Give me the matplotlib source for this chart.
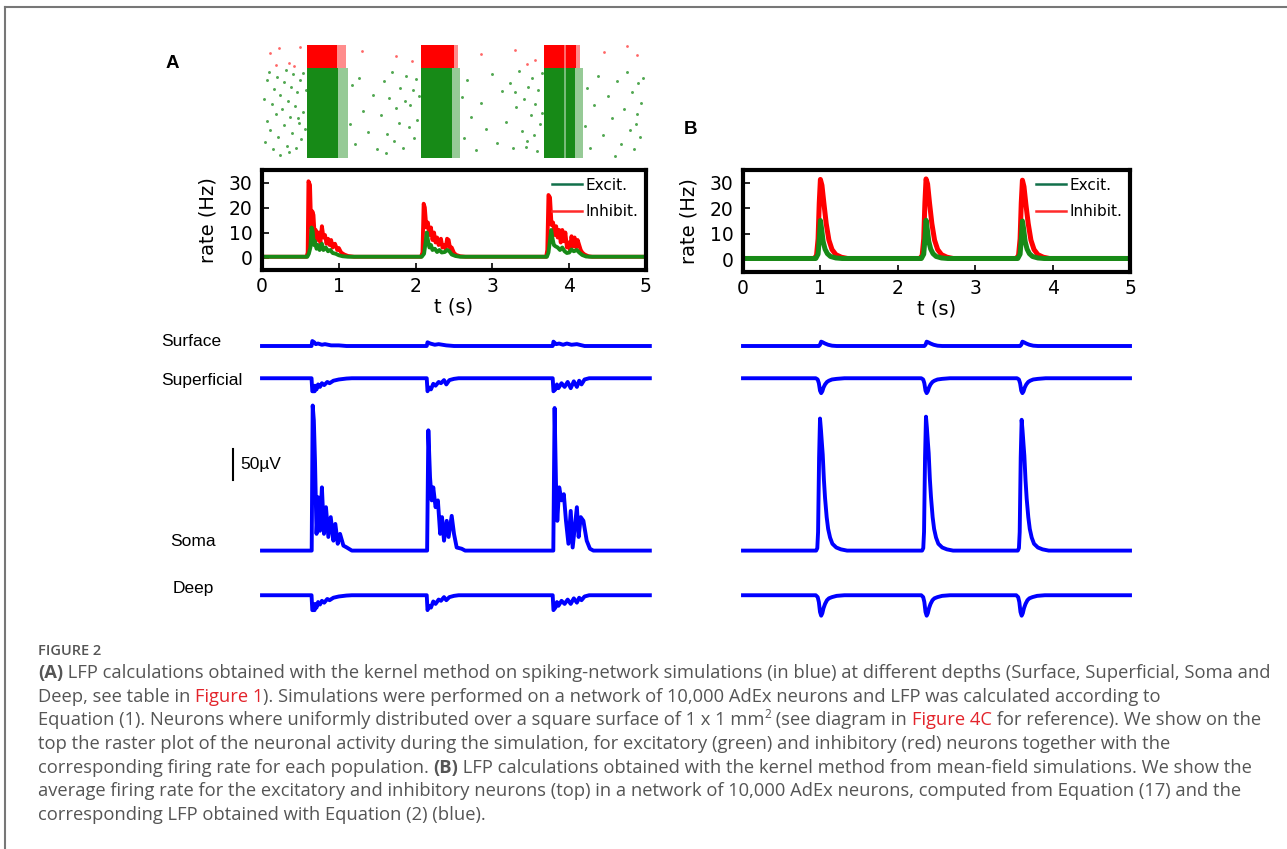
import matplotlib
matplotlib.use("Agg")
import matplotlib.pyplot as plt
from matplotlib.lines import Line2D

# ---- raster (panel A), times in s, neuron index 0-10000 (inhibitory above 8000)
burst_start = [0.59, 2.07, 3.67]
burst_dense_end = [0.99, 2.47, 4.08]
burst_end = [1.12, 2.58, 4.18]
inh_dense_end = [0.98, 2.50, 4.09]
inh_end = [1.10, 2.55, 4.14]
burst_gap = [3.95]

green_t = [0.02, 0.04, 0.06, 0.07, 0.09, 0.11, 0.13, 0.14, 0.16, 0.18, 0.19, 0.21, 0.23, 0.24, 0.26, 0.28,
           0.29, 0.31, 0.33, 0.34, 0.36, 0.38, 0.39, 0.41, 0.43, 0.44, 0.46, 0.48, 0.49, 0.51, 0.53, 0.54,
           0.56, 0.57, 0.35, 0.47,
           1.14, 1.17, 1.21, 1.26, 1.31, 1.38, 1.44, 1.50, 1.55, 1.59, 1.63, 1.66, 1.69, 1.72, 1.75, 1.78,
           1.80, 1.83, 1.86, 1.88, 1.91, 1.93, 1.96, 1.98, 2.00, 2.02, 2.04, 1.61,
           2.60, 2.63, 2.67, 2.72, 2.78, 2.85, 2.92, 2.99, 3.06, 3.12, 3.18, 3.23, 3.27, 3.31, 3.35, 3.38,
           3.41, 3.44, 3.47, 3.50, 3.52, 3.54, 3.56, 3.58, 3.60, 3.62, 3.64, 3.65, 3.45, 3.30,
           4.20, 4.23, 4.27, 4.32, 4.38, 4.44, 4.50, 4.56, 4.62, 4.67, 4.71, 4.75, 4.79, 4.82, 4.85, 4.88,
           4.90, 4.92, 4.94, 4.96, 4.60, 4.87]
green_n = [5200, 1400, 6900, 3300, 7600, 2500, 4800, 800, 6100, 3900, 7200, 1900, 5600, 300, 4300, 6700,
           2900, 7800, 1100, 5000, 3600, 6300, 2200, 7400, 4600, 900, 5800, 3100, 6900, 1700, 7500, 4100,
           2600, 6000, 500, 3500,
           3000, 6500, 1200, 7100, 4200, 2300, 5600, 800, 3800, 6800, 2100, 5300, 7600, 1500, 4400, 3100,
           6200, 900, 5000, 7300, 2700, 4700, 6000, 1800, 7000, 3400, 5500, 400,
           5400, 1800, 6900, 3600, 700, 4900, 2600, 7400, 1300, 5900, 3200, 6600, 900, 4500, 7700, 2400,
           5200, 1000, 6300, 3800, 7100, 2000, 4800, 600, 6000, 3000, 7500, 4000, 1500, 5800,
           2800, 6200, 900, 4700, 7300, 2000, 5500, 3500, 6800, 1200, 4300, 7600, 2500, 5800, 800, 3900,
           6600, 1900, 4900, 7100, 200, 3000]
red_t = [0.10, 0.22, 0.35, 0.50, 0.18, 1.30, 1.75, 1.95, 2.85, 3.30, 3.55, 3.45, 4.45, 4.75, 4.88, 0.42]
red_n = [9300, 9700, 8400, 9800, 8200, 9500, 9000, 8600, 9200, 9600, 8700, 8300, 9400, 9900, 9100, 8100]

# ---- firing rates (Hz), panel A (spiking network)
rate_a_inh_t = [0, 0.58, 0.595, 0.605, 0.625, 0.64, 0.655, 0.67, 0.685, 0.70, 0.72, 0.74, 0.76, 0.78, 0.80,
                0.82, 0.84, 0.86, 0.88, 0.90, 0.92, 0.95, 0.98, 1.00, 1.03, 1.07, 1.12, 1.20,
                2.07, 2.09, 2.105, 2.12, 2.14, 2.16, 2.18, 2.20, 2.22, 2.24, 2.26, 2.28, 2.30, 2.33, 2.35,
                2.37, 2.39, 2.41, 2.43, 2.45, 2.47, 2.50, 2.53, 2.58, 2.65,
                3.70, 3.715, 3.73, 3.75, 3.77, 3.79, 3.81, 3.83, 3.85, 3.87, 3.89, 3.91, 3.93, 3.95, 3.97,
                3.99, 4.01, 4.03, 4.05, 4.07, 4.09, 4.11, 4.13, 4.15, 4.17, 4.20, 4.25, 4.30, 5.0]
rate_a_inh = [0.3, 0.3, 2, 30.5, 29, 12, 18.5, 17, 9, 11, 7, 10, 6, 12.5, 8,
              9, 5.5, 7.5, 5, 7, 4, 5.5, 3, 3.8, 2, 1.2, 0.6, 0.3,
              0.3, 2, 21.5, 20, 12, 14, 9, 12, 7, 10, 6, 8, 5, 7.5, 4,
              5, 3.5, 7.5, 7, 3.5, 4, 1.8, 1, 0.5, 0.3,
              0.3, 3, 25, 24, 13, 14, 9, 12.5, 8, 11, 6, 11, 6.5, 10, 4,
              6, 3, 8.5, 4.5, 8, 4, 7, 5, 3, 2, 1.2, 0.5, 0.3, 0.3]
rate_a_exc_t = [0, 0.59, 0.61, 0.63, 0.645, 0.66, 0.675, 0.69, 0.71, 0.73, 0.75, 0.78, 0.80, 0.83, 0.86,
                0.89, 0.92, 0.96, 1.00, 1.05, 1.12,
                2.08, 2.11, 2.13, 2.145, 2.16, 2.18, 2.20, 2.22, 2.25, 2.28, 2.31, 2.34, 2.38, 2.41, 2.44,
                2.47, 2.52, 2.58,
                3.71, 3.73, 3.75, 3.765, 3.78, 3.80, 3.82, 3.85, 3.88, 3.91, 3.94, 3.97, 4.00, 4.03, 4.06,
                4.10, 4.13, 4.17, 4.22, 4.28, 5.0]
rate_a_exc = [0.3, 0.3, 1.5, 4, 12, 10.5, 5, 6.5, 3.5, 5, 3, 5.5, 3, 4, 2.5,
              3, 1.8, 1.5, 0.9, 0.5, 0.3,
              0.3, 1.5, 6, 10, 7, 4, 5, 3, 3.5, 2.2, 3, 2, 2.2, 3, 2.5,
              1.2, 0.6, 0.3,
              0.3, 2, 7, 11, 8, 5, 4.5, 4, 3, 4, 2.5, 1.8, 2, 3.2, 2.5,
              3, 2, 1, 0.4, 0.3, 0.3]

# ---- firing rates (Hz), panel B (mean field)
rate_b_inh_t = [0, 0.92, 0.95, 0.97, 0.985, 1.0, 1.02, 1.045, 1.075, 1.11, 1.15, 1.20, 1.27, 1.35,
                2.285, 2.315, 2.335, 2.35, 2.365, 2.385, 2.41, 2.44, 2.475, 2.515, 2.565, 2.635, 2.715,
                3.53, 3.56, 3.58, 3.595, 3.61, 3.63, 3.655, 3.685, 3.72, 3.76, 3.81, 3.88, 3.96, 5.0]
rate_b_inh = [0.3, 0.3, 1.5, 8, 22, 31.3, 29, 22, 14, 7.5, 3.8, 1.8, 0.8, 0.3,
              0.3, 1.5, 8, 22, 31.5, 29.5, 22, 14, 7.5, 3.8, 1.8, 0.8, 0.3,
              0.3, 1.5, 8, 22, 31, 28.5, 21.5, 14, 7.5, 3.8, 1.8, 0.8, 0.3, 0.3]
rate_b_exc_t = [0, 0.94, 0.97, 0.988, 1.0, 1.015, 1.035, 1.06, 1.09, 1.13, 1.20, 1.28,
                2.305, 2.335, 2.353, 2.365, 2.38, 2.40, 2.425, 2.455, 2.495, 2.565, 2.645,
                3.55, 3.58, 3.598, 3.61, 3.625, 3.645, 3.67, 3.70, 3.74, 3.81, 3.89, 5.0]
rate_b_exc = [0.3, 0.3, 2, 9, 15.2, 12, 7, 4, 2.2, 1.1, 0.5, 0.3,
              0.3, 2, 9, 15.3, 12, 7, 4, 2.2, 1.1, 0.5, 0.3,
              0.3, 2, 9, 15, 12, 7, 4, 2.2, 1.1, 0.5, 0.3, 0.3]

# ---- LFP (uV), panel A
lfp_names = ["Surface", "Superficial", "Soma", "Deep"]
lfp_offsets = [450, 398, 120, 48]
scale_uv = 50

surf_a_t = [0, 0.645, 0.655, 0.68, 0.70, 0.73, 0.78, 0.82, 0.90, 1.00, 1.10,
            2.145, 2.155, 2.19, 2.25, 2.30, 2.40, 2.50,
            3.785, 3.795, 3.83, 3.87, 3.92, 3.97, 4.03, 4.10, 4.20, 5.05]
surf_a = [0, 0, 8, 6, 3, 4, 2, 3, 1, 1, 0,
          0, 6, 4, 2, 3, 1, 0,
          0, 7, 3, 4, 2, 4, 2, 3, 0, 0]
sup_a_t = [0, 0.645, 0.655, 0.685, 0.69, 0.71, 0.73, 0.755, 0.78, 0.81, 0.85, 0.88, 0.93, 1.00, 1.10, 1.17,
           2.145, 2.155, 2.18, 2.20, 2.23, 2.26, 2.30, 2.33, 2.37, 2.40, 2.44, 2.50, 2.56,
           3.785, 3.795, 3.82, 3.84, 3.86, 3.90, 3.94, 3.98, 4.02, 4.06, 4.10, 4.13, 4.16, 4.20, 4.26, 5.05]
sup_a = [0, 0, -21, -21, -12, -18, -10, -14, -8, -11, -6, -8, -4, -2, -0.5, 0,
         0, -21, -15, -18, -9, -12, -6, -8, -3, -10, -3, -1, 0,
         0, -21, -18, -10, -16, -8, -14, -6, -16, -5, -14, -4, -10, -2, 0, 0]
soma_a_t = [0, 0.647, 0.66, 0.675, 0.69, 0.71, 0.733, 0.755, 0.78, 0.807, 0.833, 0.864, 0.895, 0.93,
            0.955, 0.986, 1.016, 1.06, 1.104, 1.17,
            2.15, 2.166, 2.188, 2.21, 2.23, 2.26, 2.29, 2.32, 2.344, 2.37, 2.405, 2.43, 2.47, 2.50,
            2.535, 2.60, 2.645,
            3.793, 3.81, 3.828, 3.845, 3.87, 3.90, 3.93, 3.958, 3.99, 4.02, 4.045, 4.10, 4.123, 4.15,
            4.185, 4.228, 4.27, 4.315, 5.05]
soma_a = [0, 0, 234, 210, 145, 27, 86, 32, 102, 27, 70, 22, 54, 16,
          43, 11, 27, 8, 5, 0,
          0, 194, 118, 81, 102, 70, 81, 27, 54, 16, 48, 22, 56, 27,
          5, 3, 0,
          0, 230, 108, 48, 102, 81, 91, 48, 11, 64, 5, 70, 22, 54,
          48, 16, 3, 0, 0]
deep_a_t = [0, 0.645, 0.655, 0.685, 0.69, 0.71, 0.73, 0.755, 0.78, 0.81, 0.85, 0.88, 0.93, 1.00, 1.10, 1.17,
            2.145, 2.155, 2.18, 2.20, 2.23, 2.26, 2.30, 2.33, 2.37, 2.40, 2.44, 2.50, 2.56,
            3.785, 3.795, 3.82, 3.84, 3.86, 3.90, 3.94, 3.98, 4.02, 4.06, 4.10, 4.13, 4.16, 4.20, 4.26, 5.05]
deep_a = [0, 0, -24, -24, -14, -20, -11, -15, -9, -12, -6, -8, -4, -2, -0.5, 0,
          0, -24, -17, -20, -10, -14, -7, -9, -3, -8, -3, -1, 0,
          0, -24, -20, -11, -17, -9, -14, -7, -14, -5, -12, -4, -8, -2, 0, 0]

# ---- LFP (uV), panel B
surf_b_t = [0, 0.98, 0.995, 1.01, 1.03, 1.06, 1.10, 1.15, 1.21,
            2.343, 2.358, 2.373, 2.393, 2.423, 2.463, 2.513, 2.573,
            3.58, 3.595, 3.61, 3.63, 3.66, 3.70, 3.75, 3.81, 5.0]
surf_b = [0, 0, 2, 7, 6, 4, 2, 0.5, 0,
          0, 2, 7, 6, 4, 2, 0.5, 0,
          0, 2, 7, 6, 4, 2, 0.5, 0, 0]
sup_b_t = [0, 0.94, 0.965, 0.98, 0.995, 1.01, 1.025, 1.04, 1.06, 1.085, 1.11, 1.15, 1.21, 1.31,
           2.303, 2.328, 2.343, 2.358, 2.373, 2.388, 2.403, 2.423, 2.448, 2.473, 2.513, 2.573, 2.673,
           3.54, 3.565, 3.58, 3.595, 3.61, 3.625, 3.64, 3.66, 3.685, 3.71, 3.75, 3.81, 3.91, 5.0]
sup_b = [0, 0, -2, -8, -20, -24, -21, -15, -10, -6, -4, -2, -1, 0,
         0, -2, -8, -20, -24, -21, -15, -10, -6, -4, -2, -1, 0,
         0, -2, -8, -20, -24, -21, -15, -10, -6, -4, -2, -1, 0, 0]
soma_b_t = [0, 0.945, 0.96, 0.97, 0.983, 0.995, 1.007, 1.02, 1.03, 1.045, 1.06, 1.081, 1.10, 1.125,
            1.155, 1.205, 1.265, 1.345,
            2.314, 2.329, 2.339, 2.352, 2.364, 2.376, 2.389, 2.399, 2.414, 2.429, 2.45, 2.469, 2.494,
            2.524, 2.574, 2.634, 2.714,
            3.55, 3.565, 3.575, 3.588, 3.60, 3.612, 3.625, 3.635, 3.65, 3.665, 3.686, 3.705, 3.73,
            3.76, 3.81, 3.87, 3.95, 5.0]
soma_b = [0, 0, 4, 30, 150, 213, 195, 172, 155, 115, 85, 54, 35, 21, 11, 5, 2, 0,
          0, 4, 30, 150, 216, 198, 174, 157, 116, 86, 54, 35, 21, 11, 5, 2, 0,
          0, 4, 30, 150, 211, 193, 170, 153, 114, 84, 54, 35, 21, 11, 5, 2, 0, 0]
deep_b_t = [0, 0.94, 0.965, 0.98, 0.995, 1.01, 1.025, 1.04, 1.06, 1.085, 1.11, 1.15, 1.21, 1.31,
            2.303, 2.328, 2.343, 2.358, 2.373, 2.388, 2.403, 2.423, 2.448, 2.473, 2.513, 2.573, 2.673,
            3.53, 3.555, 3.57, 3.585, 3.60, 3.615, 3.63, 3.65, 3.675, 3.70, 3.74, 3.80, 3.90, 5.0]
deep_b = [0, 0, -3, -11, -27, -33, -29, -21, -14, -8, -5, -3, -1, 0,
          0, -3, -11, -27, -33, -29, -21, -14, -8, -5, -3, -1, 0,
          0, -3, -11, -27, -33, -29, -21, -14, -8, -5, -3, -1, 0, 0]

# ---- caption
caption_title = "FIGURE 2"
caption_lines = [
    [("(A)", "b"), (" LFP calculations obtained with the kernel method on spiking-network simulations (in blue) at different depths (Surface, Superficial, Soma and", "n")],
    [("Deep, see table in ", "n"), ("Figure 1", "r"), ("). Simulations were performed on a network of 10,000 AdEx neurons and LFP was calculated according to", "n")],
    [("Equation (1). Neurons where uniformly distributed over a square surface of 1 x 1 mm", "n"), ("2", "s"),
     (" (see diagram in ", "n"), ("Figure 4C", "r"), (" for reference). We show on the", "n")],
    [("top the raster plot of the neuronal activity during the simulation, for excitatory (green) and inhibitory (red) neurons together with the", "n")],
    [("corresponding firing rate for each population. ", "n"), ("(B)", "b"), (" LFP calculations obtained with the kernel method from mean-field simulations. We show the", "n")],
    [("average firing rate for the excitatory and inhibitory neurons (top) in a network of 10,000 AdEx neurons, computed from Equation (17) and the", "n")],
    [("corresponding LFP obtained with Equation (2) (blue).", "n")],
]

W, H = 1287, 849
GREEN = "#178a17"
RED = "#ff0000"
BLUE = "#0000ff"
GREY = "#555555"

fig = plt.figure(figsize=(W / 100, H / 100), dpi=100)


def box(x0, y0, x1, y1):
    # pixel box (top-left origin) -> figure fraction rect
    return [x0 / W, 1 - y1 / H, (x1 - x0) / W, (y1 - y0) / H]


def fx(x):
    return x / W


def fy(y):
    return 1 - y / H


def style_rate(ax):
    ax.set_xlim(0, 5)
    ax.set_ylim(-5, 35)
    ax.set_xticks(range(6))
    ax.set_yticks([0, 10, 20, 30])
    ax.tick_params(direction="in", length=5, width=1.2, labelsize=13.5)
    ax.tick_params(axis="y", pad=7)
    ax.tick_params(axis="x", pad=5)
    for s in ax.spines.values():
        s.set_linewidth(3)
    ax.set_xlabel("t (s)", fontsize=14, labelpad=1)
    ax.set_ylabel("rate (Hz)", fontsize=14, labelpad=8)
    handles = [Line2D([], [], color="#11704a", lw=1.8, label="Excit."),
               Line2D([], [], color="#ff2a2a", lw=1.8, label="Inhibit.")]
    ax.legend(handles=handles, loc="upper right", frameon=False, fontsize=11,
              handlelength=2.0, handletextpad=0.2, labelspacing=0.75,
              borderaxespad=0.2, borderpad=0.3)


# raster
axr = fig.add_axes(box(262, 45, 646, 158))
axr.set_xlim(0, 5)
axr.set_ylim(0, 10000)
axr.axis("off")
for t0, t1, t2, i1, i2 in zip(burst_start, burst_dense_end, burst_end, inh_dense_end, inh_end):
    axr.fill_between([t0, t1], 0, 8000, color=GREEN, lw=0)
    axr.fill_between([t1, t2], 0, 8000, color=GREEN, alpha=0.45, lw=0)
    axr.fill_between([t0, i1], 8000, 10000, color=RED, lw=0)
    axr.fill_between([i1, i2], 8000, 10000, color=RED, alpha=0.45, lw=0)
for g in burst_gap:
    axr.axvline(g, color="white", alpha=0.5, lw=1.2)
axr.scatter(green_t, green_n, s=4.5, color=GREEN, alpha=0.75, lw=0)
axr.scatter(red_t, red_n, s=4, color=RED, alpha=0.6, lw=0)

# rate panels
axa = fig.add_axes(box(262, 170, 646, 270))
axa.plot(rate_a_inh_t, rate_a_inh, color=RED, lw=2.8)
axa.plot(rate_a_exc_t, rate_a_exc, color=GREEN, lw=2.8)
style_rate(axa)

axb = fig.add_axes(box(743, 170, 1130, 272))
axb.plot(rate_b_inh_t, rate_b_inh, color=RED, lw=3.6)
axb.plot(rate_b_exc_t, rate_b_exc, color=GREEN, lw=3.6)
style_rate(axb)

# LFP panels (50 uV = 31 px)
lfp_top = 325
lfp_bot = 625
ymax = (lfp_bot - lfp_top) * scale_uv / 31.0

axl = fig.add_axes(box(262, lfp_top, 646, lfp_bot))
axl.set_xlim(0, 5)
axl.set_ylim(0, ymax)
axl.axis("off")
for (tt, vv), off in zip([(surf_a_t, surf_a), (sup_a_t, sup_a), (soma_a_t, soma_a), (deep_a_t, deep_a)],
                         lfp_offsets):
    axl.plot(tt, [v + off for v in vv], color=BLUE, lw=2.8, clip_on=False)
axl.plot([-0.38, -0.38], [234, 234 + scale_uv], color="black", lw=1.5, clip_on=False)

axm = fig.add_axes(box(743, lfp_top, 1130, lfp_bot))
axm.set_xlim(0, 5)
axm.set_ylim(0, ymax)
axm.axis("off")
for (tt, vv), off in zip([(surf_b_t, surf_b), (sup_b_t, sup_b), (soma_b_t, soma_b), (deep_b_t, deep_b)],
                         lfp_offsets):
    axm.plot(tt, [v + off for v in vv], color=BLUE, lw=2.8, clip_on=False)

label_font = dict(family="Liberation Sans", fontsize=12.5, va="center", ha="left")
label_pos = [(161, 342), (161, 380), (170, 541), (173, 589)]
for name, (x, y) in zip(lfp_names, label_pos):
    fig.text(fx(x), fy(y), name, **label_font)
fig.text(fx(240), fy(465), "50\u00b5V", **label_font)

fig.text(fx(172), fy(63), "A", family="Liberation Sans", fontsize=13.5, fontweight="bold",
         ha="center", va="center")
fig.text(fx(690), fy(130), "B", family="Liberation Sans", fontsize=13.5, fontweight="bold",
         ha="center", va="center")

# frame around the figure
fig.add_artist(Line2D([fx(4.5), fx(4.5)], [fy(7), 0], color="#777777", lw=1.5))
fig.add_artist(Line2D([fx(4.5), 1], [fy(7), fy(7)], color="#777777", lw=1.5))

# caption
renderer = fig.canvas.get_renderer()
cap_size = 13.2


def seg_width(s, **kw):
    a = fig.text(0, 0, s + "|", **kw)
    b = fig.text(0, 0, "|", **kw)
    w = a.get_window_extent(renderer).width - b.get_window_extent(renderer).width
    a.remove()
    b.remove()
    return w


fig.text(fx(38), fy(655), caption_title, family="Open Sans", fontsize=10.5, fontweight="semibold",
         color="#555555", va="baseline")
for i, line in enumerate(caption_lines):
    x = 38.0
    base = 678 + 23.7 * i
    for s, kind in line:
        kw = dict(family="Open Sans", fontsize=cap_size, color=GREY)
        y = base
        if kind == "b":
            kw["fontweight"] = "bold"
        elif kind == "r":
            kw["color"] = "#e3242b"
        elif kind == "s":
            kw["fontsize"] = cap_size * 0.65
            y = base - 7
        fig.text(fx(x), fy(y), s, va="baseline", **kw)
        x += seg_width(s, **kw)

fig.savefig("out.png", dpi=100)
